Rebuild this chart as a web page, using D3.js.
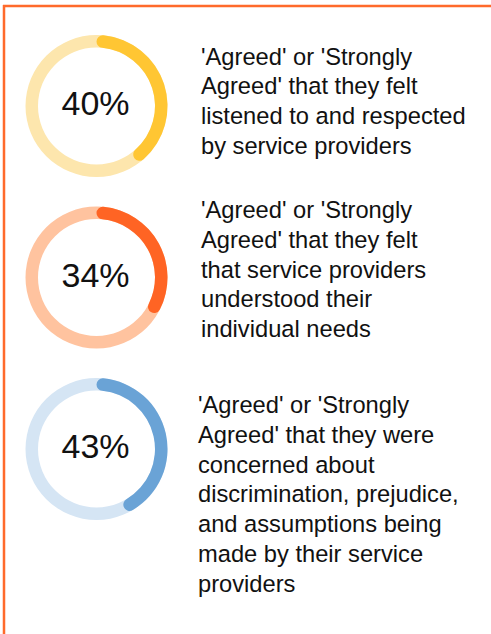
<!DOCTYPE html>
<html>
<head>
<meta charset="utf-8">
<script src="https://cdn.jsdelivr.net/npm/d3@7"></script>
<style>
  body { margin: 0; background: #fff; }
  svg { display: block; }
</style>
</head>
<body>
<div id="vis"></div>
<script>
// values
const percents = [40, 34, 43];
const labels = [
  ["'Agreed' or 'Strongly", "Agreed' that they felt", "listened to and respected", "by service providers"],
  ["'Agreed' or 'Strongly", "Agreed' that they felt", "that service providers", "understood their", "individual needs"],
  ["'Agreed' or 'Strongly", "Agreed' that they were", "concerned about", "discrimination, prejudice,", "and assumptions being", "made by their service", "providers"]
];
const mainColors = ["#ffc633", "#ff6424", "#6aa3d6"];
const trackColors = ["#fde6ad", "#ffc39f", "#d5e5f4"];

////////////////////////////////////////
////////////// Setup ///////////////////
////////////////////////////////////////

const width = 491, height = 634;
const outerR = 71, thick = 12.5;
const textX = [201, 201, 198];
const textDy = [-41.5, -59.5, -36];   // first baseline relative to ring centre
const lineH = 29.8;

const svg = d3.select("#vis").append("svg")
  .attr("width", width)
  .attr("height", height);

// orange frame on top and left
svg.append("line")
  .attr("x1", 3).attr("x2", width).attr("y1", 6).attr("y2", 6)
  .attr("stroke", "#ff6a2b").attr("stroke-width", 2.5);
svg.append("line")
  .attr("x1", 4).attr("x2", 4).attr("y1", 5).attr("y2", height)
  .attr("stroke", "#ff6a2b").attr("stroke-width", 2.5);

const y = d3.scalePoint()
  .domain(d3.range(percents.length))
  .range([106, 449]);

const angle = d3.scaleLinear().domain([0, 100]).range([0, 2 * Math.PI]);

const arc = d3.arc()
  .innerRadius(outerR - thick)
  .outerRadius(outerR)
  .cornerRadius(thick / 2)
  .startAngle(0);

const items = svg.selectAll("g.item")
  .data(percents)
  .join("g")
  .attr("class", "item");

const rings = items.append("g")
  .attr("transform", (d, i) => `translate(96.5,${y(i)})`);

rings.append("path")
  .attr("d", d3.arc().innerRadius(outerR - thick).outerRadius(outerR).startAngle(0).endAngle(2 * Math.PI)())
  .attr("fill", (d, i) => trackColors[i]);

rings.append("path")
  .attr("d", d => arc({ endAngle: angle(d) }))
  .attr("fill", (d, i) => mainColors[i]);

rings.append("text")
  .attr("text-anchor", "middle")
  .attr("x", -1)
  .attr("y", 9)
  .attr("font-family", "Liberation Sans, Arial, sans-serif")
  .attr("font-size", 34)
  .attr("fill", "#111")
  .text(d => d + "%");

items.append("text")
  .attr("font-family", "Liberation Sans, Arial, sans-serif")
  .attr("font-size", 23.7)
  .attr("fill", "#111")
  .each(function (d, i) {
    d3.select(this).selectAll("tspan")
      .data(labels[i])
      .join("tspan")
      .attr("x", textX[i])
      .attr("y", (t, j) => y(i) + textDy[i] + j * lineH)
      .text(t => t);
  });
</script>
</body>
</html>
